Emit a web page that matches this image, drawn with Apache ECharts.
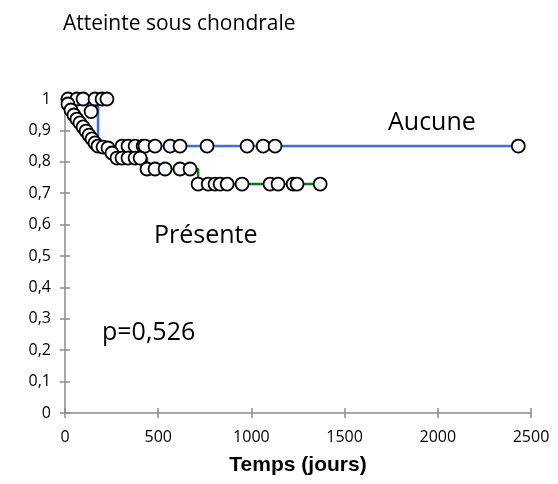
<!DOCTYPE html>
<html>
<head>
<meta charset="utf-8">
<script src="https://cdn.jsdelivr.net/npm/echarts@6/dist/echarts.min.js"></script>
<style>
  html, body { margin: 0; padding: 0; background: #fff; }
  #chart { width: 558px; height: 484px; }
</style>
</head>
<body>
<div id="chart"></div>
<script>
// courbe "Aucune" (bleue) : points de la marche
const aucuneStepDays = [0, 123, 177, 2432]
const aucuneStepSurv = [1, 0.977, 0.85, 0.85]
// marqueurs (cercles) du groupe "Aucune"
const aucuneMarkDays = [16, 64, 97, 161, 199, 225, 140, 306, 338, 376, 419, 429, 483, 564, 617, 762, 977, 1063, 1127, 2432]
const aucuneMarkSurv = [1, 1, 1, 1, 1, 1, 0.96, 0.85, 0.85, 0.85, 0.85, 0.85, 0.85, 0.85, 0.85, 0.85, 0.85, 0.85, 0.85, 0.85]

// courbe "Présente" (verte)
const presenteStepDays = [0, 16, 32, 48, 64, 80, 97, 113, 129, 145, 161, 177, 252, 279, 440, 714, 1369]
const presenteStepSurv = [1, 0.984, 0.965, 0.949, 0.936, 0.924, 0.911, 0.898, 0.885, 0.873, 0.86, 0.85, 0.828, 0.812, 0.777, 0.729, 0.729]
// marqueurs du groupe "Présente"
const presenteMarkDays = [16, 32, 48, 64, 80, 97, 113, 129, 145, 161, 177, 204, 231, 252, 279, 306, 338, 376, 403,
  440, 483, 537, 617, 671, 714, 768, 805, 832, 870, 950, 1100, 1143, 1224, 1245, 1369]
const presenteMarkSurv = [0.984, 0.965, 0.949, 0.936, 0.924, 0.911, 0.898, 0.885, 0.873, 0.86, 0.85, 0.847, 0.844, 0.828, 0.812, 0.812, 0.812, 0.812, 0.812,
  0.777, 0.777, 0.777, 0.777, 0.777, 0.729, 0.729, 0.729, 0.729, 0.729, 0.729, 0.729, 0.729, 0.729, 0.729, 0.729]

const xTicks = { min: 0, max: 2500, interval: 500 }
const yTicks = { min: 0, max: 1, interval: 0.1 }

const zip = (a, b) => a.map((v, i) => [v, b[i]])

const axisGray = '#8c8c8c'
const labelFont = { fontFamily: 'Open Sans', fontSize: 16, color: '#000' }

const markerStyle = {
  type: 'scatter',
  symbol: 'circle',
  symbolSize: 13,
  itemStyle: { color: '#fff', borderColor: '#000', borderWidth: 1.8, opacity: 1 },
  z: 5,
  silent: true
}

const chart = echarts.init(document.getElementById('chart'), null, { renderer: 'canvas' })

chart.setOption({
  animation: false,
  title: {
    text: 'Atteinte sous chondrale',
    left: 58,
    top: 9,
    textStyle: { fontFamily: 'Open Sans', fontSize: 21, fontWeight: 'normal', color: '#000' }
  },
  grid: { left: 65, right: 27, top: 99, bottom: 71 },
  xAxis: [
    {
      type: 'value',
      ...xTicks,
      name: 'Temps (jours)',
      nameLocation: 'middle',
      nameGap: 42,
      nameTextStyle: { fontFamily: 'Liberation Sans', fontWeight: 'bold', fontSize: 21, color: '#000' },
      axisLine: { show: true, lineStyle: { color: axisGray, width: 1.5 } },
      axisTick: { show: true, length: 5, lineStyle: { color: axisGray, width: 1.5 } },
      axisLabel: { ...labelFont, margin: 16, formatter: v => String(v) },
      splitLine: { show: false }
    },
    {
      // petites graduations vers l'intérieur (croix)
      type: 'value',
      ...xTicks,
      position: 'bottom',
      axisLine: { show: false },
      axisTick: { show: true, inside: true, length: 5, lineStyle: { color: axisGray, width: 1.5 } },
      axisLabel: { show: false },
      splitLine: { show: false }
    }
  ],
  yAxis: [
    {
      type: 'value',
      ...yTicks,
      axisLine: { show: true, lineStyle: { color: axisGray, width: 1.5 } },
      axisTick: { show: true, length: 5, lineStyle: { color: axisGray, width: 1.5 } },
      axisLabel: {
        ...labelFont,
        margin: 14,
        formatter: v => (v === 0 || v === 1) ? String(v) : v.toFixed(1).replace('.', ',')
      },
      splitLine: { show: false }
    },
    {
      type: 'value',
      ...yTicks,
      position: 'left',
      axisLine: { show: false },
      axisTick: { show: true, inside: true, length: 5, lineStyle: { color: axisGray, width: 1.5 } },
      axisLabel: { show: false },
      splitLine: { show: false }
    }
  ],
  series: [
    {
      name: 'Aucune',
      type: 'line',
      step: 'end',
      data: zip(aucuneStepDays, aucuneStepSurv),
      showSymbol: false,
      lineStyle: { color: '#3b6cf6', width: 2.5 },
      z: 2
    },
    {
      name: 'Présente',
      type: 'line',
      step: 'end',
      data: zip(presenteStepDays, presenteStepSurv),
      showSymbol: false,
      lineStyle: { color: '#0b7a0b', width: 2.5 },
      z: 3
    },
    { ...markerStyle, name: 'Aucune (censures)', data: zip(aucuneMarkDays, aucuneMarkSurv) },
    { ...markerStyle, name: 'Présente (censures)', data: zip(presenteMarkDays, presenteMarkSurv) }
  ],
  graphic: [
    { type: 'text', left: 388, top: 110, style: { text: 'Aucune', font: '25px "Open Sans"', fill: '#000' } },
    { type: 'text', left: 154, top: 223, style: { text: 'Présente', font: '25px "Open Sans"', fill: '#000' } },
    { type: 'text', left: 102, top: 320, style: { text: 'p=0,526', font: '25px "Open Sans"', fill: '#000' } }
  ]
})
</script>
</body>
</html>
